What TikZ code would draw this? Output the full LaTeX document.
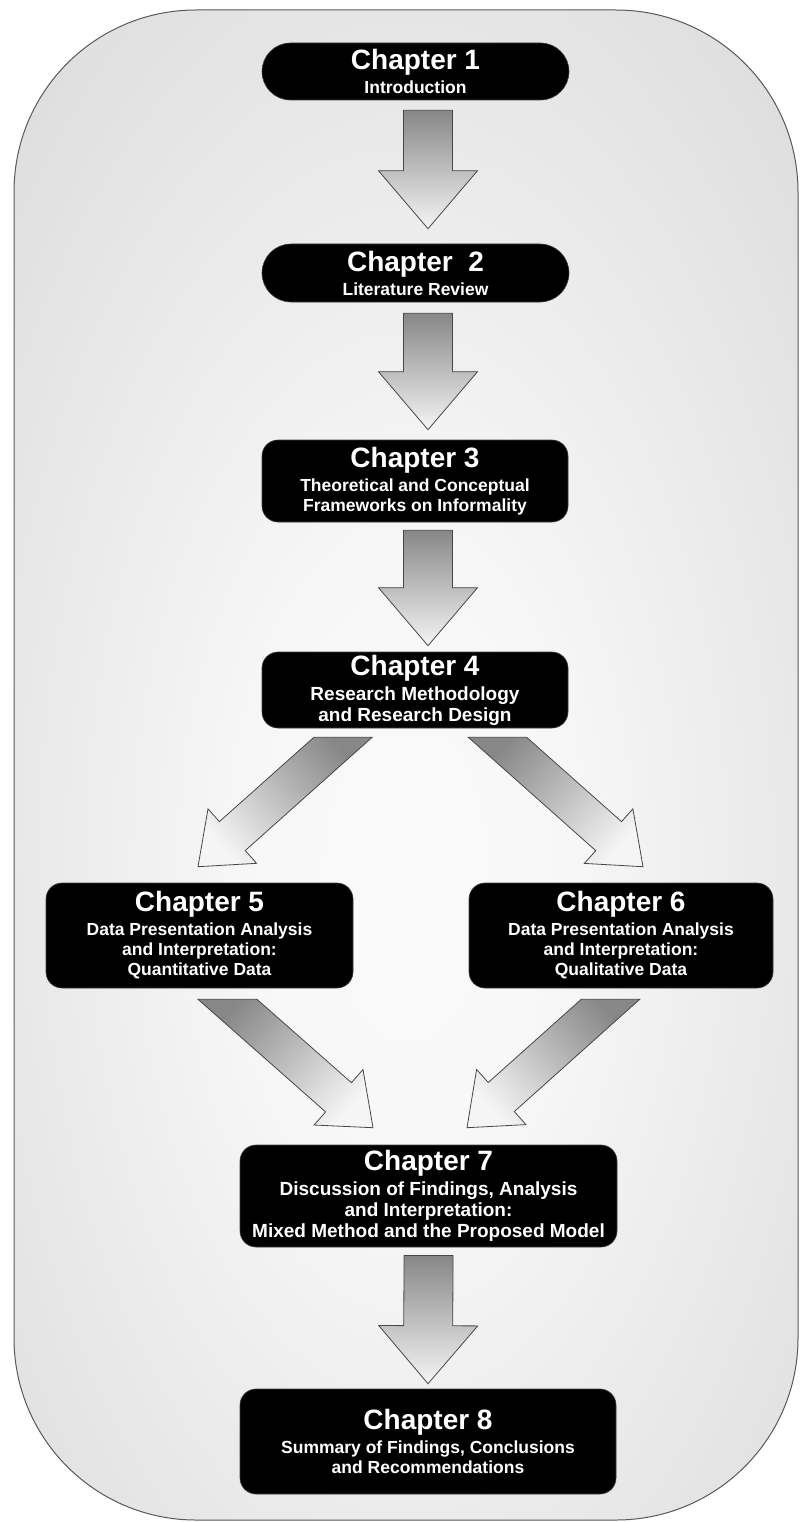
\documentclass[tikz,border=0pt]{standalone}
\usepackage{fontspec}
\setmainfont{Liberation Sans}
\usetikzlibrary{calc}

% soft light-grey panel behind the flow chart, brightest just below the middle
\pgfdeclareradialshading{panelshade}{\pgfpoint{0bp}{-4bp}}{%
  color(0bp)=(white!98!black); color(10bp)=(white!97!black);
  color(50bp)=(black!19); color(100bp)=(black!19)}

% chapter title line, larger than the description lines below it
\newcommand{\ctitle}[1]{{\fontsize{28}{28}\selectfont #1}\\[4pt]}

% block arrow from tail centre #1 (tail cut horizontally) to tip #2;
% #3 shaft half width, #4 head half width, #5 head length, #6 path options
\newcommand{\blockarrow}[6]{%
  \coordinate (ba-b)  at ($(#2)!#5!(#1)$);
  \coordinate (ba-n1) at ($(ba-b)!#3!90:(#2)$);
  \coordinate (ba-n2) at ($(ba-b)!#3!-90:(#2)$);
  \coordinate (ba-w1) at ($(ba-b)!#4!90:(#2)$);
  \coordinate (ba-w2) at ($(ba-b)!#4!-90:(#2)$);
  \coordinate (ba-p1) at ($(#1)!#3!90:(#2)$);
  \coordinate (ba-p2) at ($(#1)!#3!-90:(#2)$);
  \coordinate (ba-h)  at ($(#1)+(10,0)$);
  \path[#6] (intersection of ba-n1--ba-p1 and #1--ba-h) -- (ba-n1) -- (ba-w1)
    -- (#2) -- (ba-w2) -- (ba-n2) -- (intersection of ba-n2--ba-p2 and #1--ba-h) -- cycle;
}

\tikzset{
  chapbox/.style={fill=black, draw=black!75, line width=0.6pt, text=white,
    align=center, inner sep=0pt, rounded corners=16pt,
    font=\bfseries\fontsize{17.5}{20}\selectfont},
  widefont/.style={font=\bfseries\fontsize{19}{21}\selectfont},
  arrowfill/.style={draw=black!72, line width=0.8pt, line join=miter,
    top color=black!47, bottom color=white!96!black},
}

\begin{document}
\begin{tikzpicture}[x=1pt, y=-1pt]
  \useasboundingbox (0,0) rectangle (800,1522);

  % rounded panel
  \path[shade, shading=panelshade, draw=black!65, line width=1pt,
        rounded corners=182pt] (14,10) rectangle (798,1520);

  % chapter boxes
  \node[chapbox, rounded corners=28.5pt, minimum width=307pt, minimum height=57pt]
    (c1) at (415.5,71.5) {\ctitle{Chapter 1}Introduction};
  \node[chapbox, rounded corners=29pt, minimum width=307pt, minimum height=58pt]
    (c2) at (415.5,273) {\ctitle{Chapter\ \ 2}Literature Review};
  \node[chapbox, minimum width=306pt, minimum height=82pt]
    (c3) at (415,481) {\ctitle{Chapter 3}Theoretical and Conceptual\\Frameworks on Informality};
  \node[chapbox, widefont, minimum width=306pt, minimum height=76pt]
    (c4) at (415,690) {\ctitle{Chapter 4}Research Methodology\\and Research Design};
  \node[chapbox, minimum width=307pt, minimum height=105pt]
    (c5) at (199.5,935.5) {\ctitle{Chapter 5}Data Presentation Analysis\\and Interpretation:\\Quantitative Data};
  \node[chapbox, minimum width=304pt, minimum height=105pt]
    (c6) at (621,935.5) {\ctitle{Chapter 6}Data Presentation Analysis\\and Interpretation:\\Qualitative Data};
  \node[chapbox, widefont, minimum width=377pt, minimum height=102pt]
    (c7) at (428.5,1196) {\ctitle{Chapter 7}Discussion of Findings, Analysis\\and Interpretation:\\Mixed Method and the Proposed Model};
  \node[chapbox, minimum width=376pt, minimum height=105pt]
    (c8) at (428,1441.5) {\ctitle{Chapter 8}Summary of Findings, Conclusions\\and Recommendations};

  % arrow ends, placed against the boxes they join
  \coordinate (a1t) at ($(c1.south)+(12.5,10)$);  \coordinate (a1p) at ($(c2.north)+(12.5,-15)$);
  \coordinate (a2t) at ($(c2.south)+(12.5,11)$);  \coordinate (a2p) at ($(c3.north)+(13,-10)$);
  \coordinate (a3t) at ($(c3.south)+(13,8)$);     \coordinate (a3p) at ($(c4.north)+(13,-6)$);
  \coordinate (a4t) at ($(c7.south)+(0,8)$);      \coordinate (a4p) at ($(c8.north)+(0,-5)$);
  \coordinate (b1t) at ($(c4.south)+(-72,9)$);    \coordinate (b1p) at ($(c5.north)+(-1.5,-16)$);
  \coordinate (b2t) at ($(c4.south)+(82.5,9)$);   \coordinate (b2p) at ($(c6.north)+(22,-16)$);
  \coordinate (b3t) at ($(c5.south)+(28,11)$);    \coordinate (b3p) at ($(c7.north)+(-55.5,-17)$);
  \coordinate (b4t) at ($(c6.south)+(-10.5,11)$); \coordinate (b4p) at ($(c7.north)+(38.5,-17)$);

  % straight-down arrows
  \blockarrow{a1t}{a1p}{24.5pt}{49.5pt}{58pt}{arrowfill}
  \blockarrow{a2t}{a2p}{24.5pt}{49.5pt}{58pt}{arrowfill}
  \blockarrow{a3t}{a3p}{24.5pt}{49.5pt}{58pt}{arrowfill}
  \blockarrow{a4t}{a4p}{24.5pt}{49.5pt}{58pt}{arrowfill}

  % slanted arrows
  \blockarrow{b1t}{b1p}{19.4pt}{36.5pt}{46pt}{arrowfill, shading angle=-48}
  \blockarrow{b2t}{b2p}{19.4pt}{36.5pt}{46pt}{arrowfill, shading angle=48}
  \blockarrow{b3t}{b3p}{19.5pt}{37pt}{46pt}{arrowfill, shading angle=48}
  \blockarrow{b4t}{b4p}{19.5pt}{37pt}{46pt}{arrowfill, shading angle=-48}
\end{tikzpicture}
\end{document}
